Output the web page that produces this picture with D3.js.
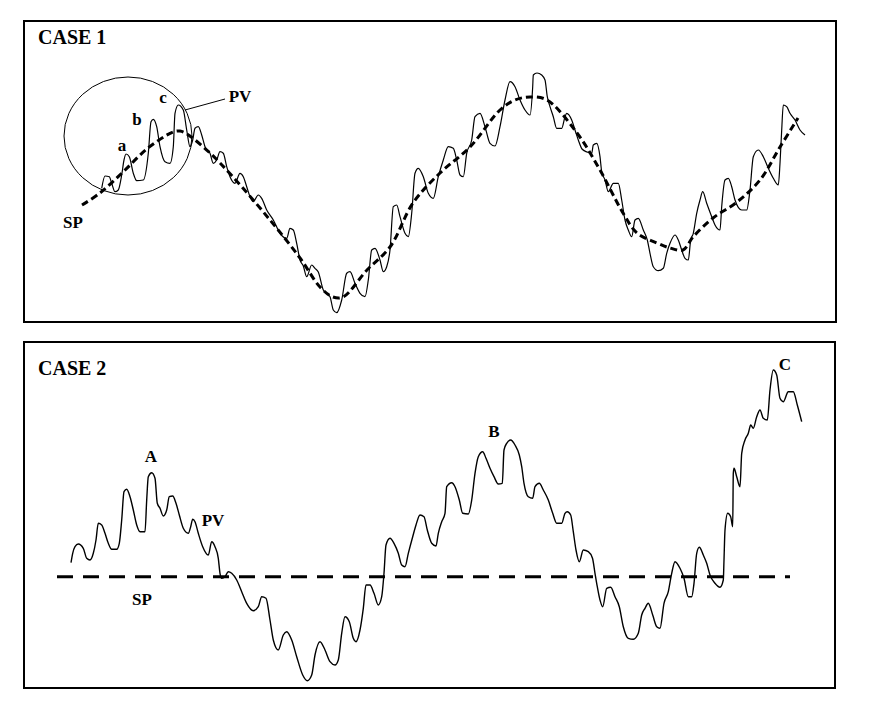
<!DOCTYPE html>
<html>
<head>
<meta charset="utf-8">
<script src="https://cdn.jsdelivr.net/npm/d3@7"></script>
<style>
  html, body { margin: 0; padding: 0; background: #fff; }
  svg { display: block; }
  text { font-family: "Liberation Serif", "Times New Roman", serif; font-weight: bold; fill: #000; }
</style>
</head>
<body>
<div id="chart"></div>
<script>
// ---------------- DATA ----------------
// Case 1: process variable (PV) tracking a moving set point (SP)
const case1Time = [77.7,81,85.3,87.7,91,94.3,97.7,100,102,105.3,109.3,112.7,119.3,124.3,127,129.3,132.7,136,141,146,149.3,151,154.3,159.3,162.7,166,168.7,171,174.3,177.7,181,186,189.3,192.7,196,199.3,202.7,206,211,216,219.3,222.7,226,229.3,234.3,237.7,242.7,249.3,256,262.7,266,269.3,272.7,276,279.3,282.7,287.7,291,294.3,299.3,306,309.3,312.7,317.7,322.7,326,331,336,341,344.3,347.7,351,356,359.3,362.7,366,369.3,372.7,376,381,384.3,387.7,391,394.3,399.3,404.3,409.3,414.3,419.3,424.3,429.3,432.7,436,439.3,442.7,447.7,451,456,461,466,471,476,481,486,491,496,501,506,508.7,509.3,513,517.7,521,523.3,526,529.3,532.7,537.7,541,542.7,547.7,551,554.3,558,563,567.7,569.3,572.7,576,577.7,581,584.3,589.3,594.3,597.7,601,604.3,607.7,611,614.3,619.3,623.3,626,629.3,634.3,639.3,642.7,646,651,654.3,657.7,661,664.3,666.7,669.3,672.7,676,678.7,682.7,687.7,691,696,697.7,701,704.3,707.7,711,717.7,722.7,726,729.3,734.3,739.3,744.3,749.3,754.3,756,757.7,759.3,762.7,766,771,776,781];
const case1PV   = [133.7,146,145.3,138.7,130.3,132,147,162,168,165.3,148.7,141.3,142,168.7,200.3,202.7,195.3,175.3,160.3,158.7,175.3,208.7,217,212,192,175.3,182,193.7,195.3,187,175.3,168.7,158.7,162,170.3,168.7,155.3,145.3,138.7,148.7,145.3,135.3,125.3,120.3,127,123.7,112,102,88.7,83.7,93.7,92,78.7,62,56,45.3,57,53.7,50,32,25.3,12,9.3,22,48.7,50.3,38.7,28.7,25.3,42,72,73.7,62,50.3,55.3,72,115.3,117,105.3,88.7,85.3,108.7,148.7,153.7,145.3,128.7,123.7,145.3,162,175.3,173.7,162,147,145.3,168.7,182,205.3,208.7,195.3,178.7,176,195.3,222,240.3,235.3,222,212,207,235.3,247,249,247,242,225.3,215.3,205.3,193.7,193.7,205.3,208.7,202,192,182,173,170,168.7,177,178.7,165.3,150.3,142,130.3,138.7,138.7,122,102,92,85.3,102,103.7,92,82,68.7,55.3,51.3,53.7,68.7,78.7,87,82,72,63.7,62,82,88.7,108.7,122,130.3,118.7,105.3,97,92,115.3,142,143.7,135.3,122,112,112,132,165.3,172,165.3,153.7,143.7,137,158.7,192,217,215.3,208.7,202,192,187];
const case1SPTime = [58,76,99,124,149,156,163,186,209,246,276,296,309,319,343,366,389,416,446,476,491,506,523,553,576,599,613,633,646,659,669,689,713,736,756,774];
const case1SP     = [117,129,150,174,190,191,188,169,145,102,64,35,25,25,52,75,119,149,175,212,222,225,222,189,152,109,89,79,74,72,85,104,120,142,175,204];

// Case 2: process variable (PV) oscillating around a constant set point (SP)
const case2Time = [47,48.7,51,54.3,59.3,62.7,66,69.3,72,74.3,77.7,81,84.3,87.7,92.7,95.3,97.7,100,102.7,106,109.3,112.7,116,121,122.7,124.3,127.7,131,133.3,136,139.3,142.7,145.3,148.7,152,155.3,159.3,164.3,166.7,168.7,171,174.3,178.7,184.3,187.7,191,194.3,196,197.7,201,204.3,207.7,212.7,217.7,222.7,229.3,234.3,237.7,242,246,249.3,254.3,259.3,262.7,267.7,272.7,278.7,283.3,287.7,291,296,301,306,311,314.3,317.7,321,325.3,329.3,332,336,339.3,342,346,350,354.3,357.7,360,362,366,370,374.3,377.7,381,384.3,388.7,392,396,400,403.3,407.7,412,414.3,417.7,421,422.7,427.7,431,435.3,438.7,444.3,447.7,451,454.3,458.7,462,466,470,474.3,478.3,480,482.7,486.7,491,495.3,497.7,500,504.3,508.7,511,515.3,519.3,524.3,528.7,532.7,537.7,541,543.3,546.7,549.3,552,555.3,559.3,564.3,568.5,571,573.3,576,578.7,582.7,586.7,591,595.3,599.3,604.3,609.3,614.3,617.7,621,624.3,628.7,632.7,636,640,644.3,647.7,651,656,660,664.3,667.7,670,672.7,675.3,679.3,682.7,686,691,696,699.3,700,701,703.7,706.7,708.7,709.3,710,712.7,716,717.7,721,724.3,726.7,729.3,732.7,736,739.3,743.3,746,749.3,752.7,756,759.3,764.3,769.3,773.3,777.7];
const case2PV   = [125.3,134.7,141.3,144,139.7,129.7,128,134.7,148,164.7,163,154.7,144.7,138.7,138.7,144.7,168,196.3,198.7,191.3,178,163,156.3,156.3,188,211.3,215.3,209.7,184.7,179.7,172,178,191.3,192,184.7,173,159.7,154.7,161.3,168.7,166.3,154.7,141.3,133,146.3,141.3,129.7,114.7,109.7,111.3,116.3,114.7,108,96.3,84.7,77.3,81.3,91.3,89.7,68,48,38,53,56.3,48,31.3,13,7.3,13,33,46.3,38,26.3,23,28,54.7,71.3,66.3,49.7,46.3,58,79.7,103,103,94.7,83,91.3,114.7,143,149.7,144.7,134.7,123,121.3,134.7,151.3,163,173,171.3,158,144.7,142,154.7,166.3,174.7,201.3,205.3,201.3,188,174.7,174,188,214.7,231.3,236.3,229.7,219.7,211.3,204,204.7,238,244.7,248,243,233,221.3,204.7,191.3,189.7,201.3,204.7,198,188,174.7,164.7,164.7,174.7,176.3,173,156.3,138,126.3,138,136.3,129.7,114.7,101.3,88,81.3,99.7,100.7,91.3,81.3,61.3,49.7,48.7,54.7,73,79.7,84.7,73,61.3,59.7,84.7,96.3,114.7,126.3,119.7,109.7,91.3,91.3,104.7,134.7,140.7,133,124.7,113,104.7,100.7,108,128,158,174.7,171.3,161.3,214.7,219.7,211.3,201.3,234.7,248,254.7,263,259.7,271.3,278,269.7,268,298,318,313,289.7,286.3,296.3,296.3,283,266.3];
const case2SPTime = [33, 766];
const case2SP     = [111.3, 111.3];

const panelTitles = ["CASE 1", "CASE 2"];
const case1Labels = ["a", "b", "c", "PV", "SP"];
const case2Labels = ["A", "B", "C", "PV", "SP"];

// ---------------- LAYOUT ----------------
const W = 873, H = 710;
const svg = d3.select("#chart").append("svg").attr("width", W).attr("height", H);

const panels = [
  { x0: 24, x1: 836, y0: 21, y1: 322, vmax: 301 },
  { x0: 24, x1: 835, y0: 342, y1: 688, vmax: 346 }
];

const x = d3.scaleLinear().domain([0, 812]).range([24, 836]);
const y1 = d3.scaleLinear().domain([0, panels[0].vmax]).range([panels[0].y1, panels[0].y0]);
const y2 = d3.scaleLinear().domain([0, panels[1].vmax]).range([panels[1].y1, panels[1].y0]);

// panel frames
panels.forEach((p, i) => {
  svg.append("rect")
    .attr("x", p.x0).attr("y", p.y0)
    .attr("width", p.x1 - p.x0).attr("height", p.y1 - p.y0)
    .attr("fill", "none").attr("stroke", "#000").attr("stroke-width", 2);
  svg.append("text")
    .attr("x", p.x0 + 14).attr("y", p.y0 + (i === 0 ? 23 : 33))
    .attr("font-size", 20)
    .text(panelTitles[i]);
});

const zip = (ts, vs) => ts.map((t, i) => [t, vs[i]]);

// ---------------- CASE 1 ----------------
const line1 = d3.line().x(d => x(d[0])).y(d => y1(d[1])).curve(d3.curveMonotoneX);
const spLine1 = d3.line().x(d => x(d[0])).y(d => y1(d[1])).curve(d3.curveCatmullRom.alpha(0.5));

svg.append("path")
  .datum(zip(case1Time, case1PV))
  .attr("d", line1)
  .attr("fill", "none").attr("stroke", "#000").attr("stroke-width", 1.2)
  .attr("stroke-linejoin", "round");

svg.append("path")
  .datum(zip(case1SPTime, case1SP))
  .attr("d", spLine1)
  .attr("fill", "none").attr("stroke", "#000").attr("stroke-width", 3)
  .attr("stroke-dasharray", "7,4");

// circle around the first oscillations
svg.append("ellipse")
  .attr("cx", x(104)).attr("cy", y1(186))
  .attr("rx", 64).attr("ry", 59)
  .attr("fill", "none").attr("stroke", "#000").attr("stroke-width", 1);

// PV leader line
svg.append("line")
  .attr("x1", x(161)).attr("y1", y1(212))
  .attr("x2", x(201)).attr("y2", y1(223))
  .attr("stroke", "#000").attr("stroke-width", 1);

const c1pos = [[98, 171], [113, 197], [139, 219], [216, 220], [49, 94]];
case1Labels.forEach((lab, i) => {
  svg.append("text")
    .attr("x", x(c1pos[i][0])).attr("y", y1(c1pos[i][1]))
    .attr("text-anchor", "middle")
    .attr("font-size", 17)
    .text(lab);
});

// ---------------- CASE 2 ----------------
const line2 = d3.line().x(d => x(d[0])).y(d => y2(d[1]));
const pvLine2 = d3.line().x(d => x(d[0])).y(d => y2(d[1])).curve(d3.curveMonotoneX);

svg.append("path")
  .datum(zip(case2SPTime, case2SP))
  .attr("d", line2)
  .attr("fill", "none").attr("stroke", "#000").attr("stroke-width", 3)
  .attr("stroke-dasharray", "16,10");

svg.append("path")
  .datum(zip(case2Time, case2PV))
  .attr("d", pvLine2)
  .attr("fill", "none").attr("stroke", "#000").attr("stroke-width", 1.4)
  .attr("stroke-linejoin", "round");

const c2pos = [[127, 226], [470, 251], [761, 318], [189, 162], [118, 83]];
case2Labels.forEach((lab, i) => {
  svg.append("text")
    .attr("x", x(c2pos[i][0])).attr("y", y2(c2pos[i][1]))
    .attr("text-anchor", "middle")
    .attr("font-size", 17)
    .text(lab);
});
</script>
</body>
</html>
